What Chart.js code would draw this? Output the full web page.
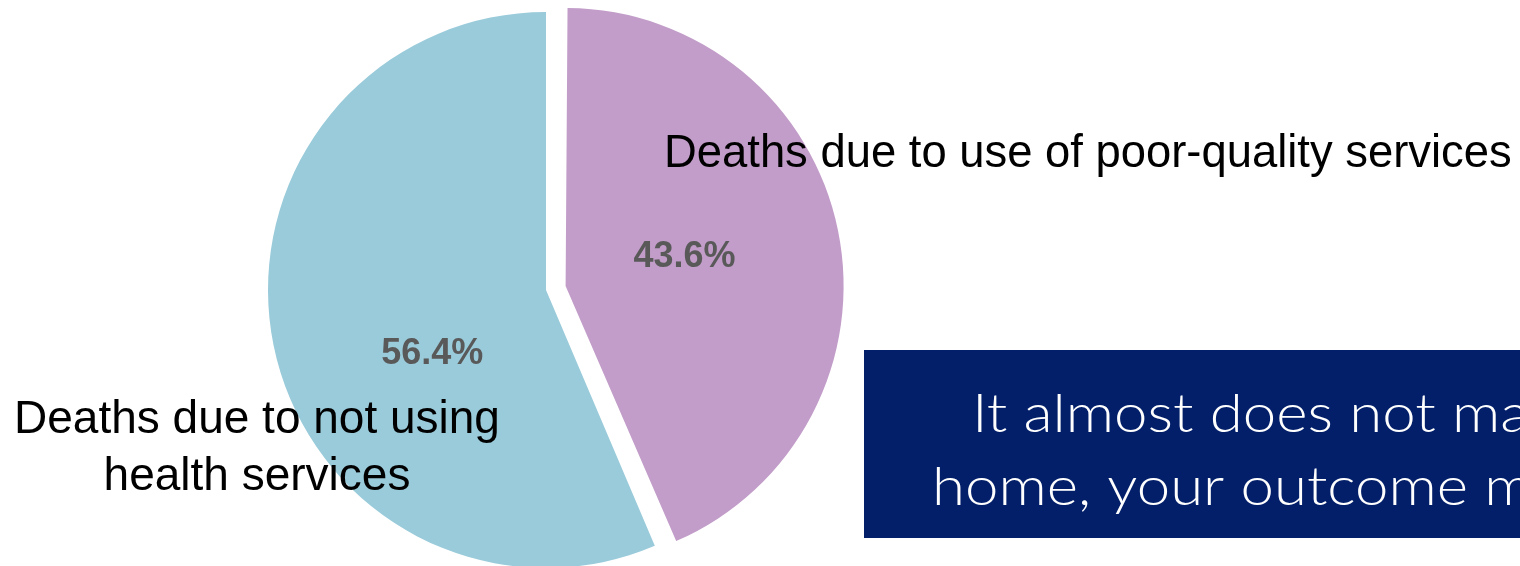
<!DOCTYPE html>
<html>
<head>
<meta charset="utf-8">
<script src="https://cdn.jsdelivr.net/npm/chart.js@4"></script>
<style>
  html, body { margin: 0; padding: 0; background: #fff; overflow: hidden; }
  #wrap { width: 1520px; height: 566px; }
</style>
</head>
<body>
<div id="wrap"><canvas id="deathsChart" width="1520" height="566"></canvas></div>
<script>
// data, in drawing order (clockwise from 12 o'clock)
const categories = ["Deaths due to use of poor-quality services", "Deaths due to not using health services"];
const shares = [43.6, 56.4];
const sliceColors = ["#C29DC9", "#9ACBDA"];
const explode = [80, 0]; // chart.js moves a slice by offset / 4

// category labels as they sit on the slide
const categoryLines = [["Deaths due to use of poor-quality services"], ["Deaths due to not using", "health services"]];
const calloutLines = [
    "It almost does not matter whether you deliver in a facility or at",
    "home, your outcome may be the same"
];

const pieLabels = {
    id: "pieLabels",
    afterDatasetUpdate(chart) {
        // keep the exploded slice the same size as the other one
        chart.getDatasetMeta(0).data.forEach((arc, i) => {
            const off = explode[i] / 4;
            const fix = 1 - Math.sin(Math.min(Math.PI, arc.circumference));
            arc.outerRadius -= off * fix;
        });
    },
    afterDatasetsDraw(chart) {
        const ctx = chart.ctx;
        const arcs = chart.getDatasetMeta(0).data;
        const labelRadius = [0.44, 0.47];
        const angleShift = [-2, -18];

        ctx.save();
        ctx.font = "bold 36px 'Liberation Sans', Arial, sans-serif";
        ctx.fillStyle = "#595959";
        ctx.textAlign = "center";
        ctx.textBaseline = "middle";
        arcs.forEach((arc, i) => {
            const half = (arc.startAngle + arc.endAngle) / 2;
            const cx = arc.x + Math.cos(half) * explode[i] / 4;
            const cy = arc.y + Math.sin(half) * explode[i] / 4;
            const a = half + angleShift[i] * Math.PI / 180;
            const r = 278 * labelRadius[i];
            ctx.fillText(shares[i].toFixed(1) + "%", cx + Math.cos(a) * r, cy + Math.sin(a) * r);
        });

        // category names
        ctx.fillStyle = "#000";
        ctx.textBaseline = "alphabetic";
        ctx.textAlign = "left";
        ctx.font = "45.4px 'Liberation Sans', Arial, sans-serif";
        ctx.fillText(categoryLines[0][0], 664, 167);
        ctx.font = "46px 'Liberation Sans', Arial, sans-serif";
        ctx.textAlign = "center";
        categoryLines[1].forEach((line, k) => ctx.fillText(line, 257, 433 + k * 57));

        // callout box (wide geometric face: stretch a light sans)
        ctx.fillStyle = "#031F69";
        ctx.fillRect(864, 350, 700, 188);
        ctx.fillStyle = "#fff";
        ctx.font = "300 54px Lato, 'DejaVu Sans', sans-serif";
        ctx.textAlign = "left";
        const stretch = 1.11;
        ctx.save();
        ctx.translate(972, 432);
        ctx.scale(stretch, 1);
        ctx.fillText(calloutLines[0], 0, 0);
        ctx.restore();
        ctx.save();
        ctx.translate(932, 505);
        ctx.scale(stretch, 1);
        ctx.fillText(calloutLines[1], 0, 0);
        ctx.restore();
        ctx.restore();
    }
};

new Chart(document.getElementById("deathsChart").getContext("2d"), {
    type: "pie",
    data: {
        labels: categories,
        datasets: [{
            data: shares,
            backgroundColor: sliceColors,
            borderWidth: 0,
            offset: explode,
            radius: 278,
            clip: false
        }]
    },
    options: {
        responsive: false,
        devicePixelRatio: 1,
        animation: false,
        rotation: 0,
        layout: { padding: { left: 0, right: 428, top: 14, bottom: 0 } },
        plugins: {
            legend: { display: false },
            tooltip: { enabled: false }
        }
    },
    plugins: [pieLabels]
});
</script>
</body>
</html>
